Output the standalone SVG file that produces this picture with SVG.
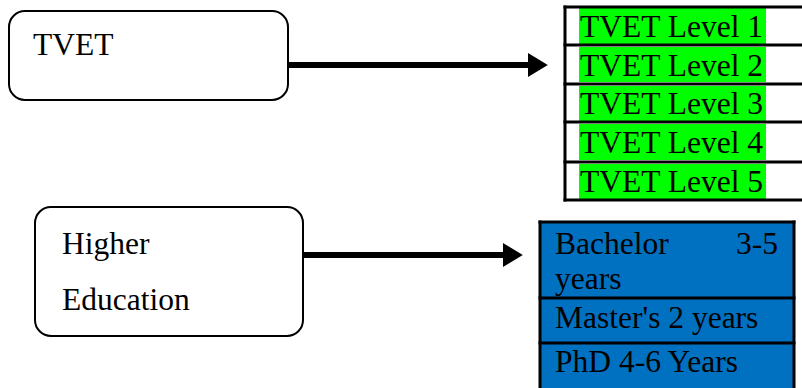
<svg xmlns="http://www.w3.org/2000/svg" width="802" height="388" viewBox="0 0 802 388">
<defs>
<style>
.box{fill:#fff;stroke:#000;stroke-width:2}
.t{font-family:"Liberation Serif","Times New Roman",serif;font-size:31.5px;fill:#000}
.cell{stroke:#000;stroke-width:3}
.conn{stroke:#000;stroke-width:6;fill:none}
</style>
<marker id="ah" markerWidth="4" markerHeight="4" refX="0" refY="2" orient="auto" markerUnits="strokeWidth" viewBox="0 0 4 4">
<path d="M0,0 L3.3,2 L0,4 Z" fill="#000"/>
</marker>
</defs>
<rect width="802" height="388" fill="#fff"/>
<g id="tvet">
<rect class="box" x="9" y="11" width="279" height="89" rx="16"/>
<text class="t" x="33" y="55">TVET</text>
</g>
<g id="higher-education">
<rect class="box" x="35" y="207" width="268" height="129" rx="16"/>
<text class="t" x="62" y="254">Higher</text>
<text class="t" x="62" y="310">Education</text>
</g>
<g id="tvet-levels">
<rect x="579" y="8" width="187" height="36" fill="#00ff00"/>
<rect x="579" y="47" width="187" height="35" fill="#00ff00"/>
<rect x="579" y="86" width="187" height="35" fill="#00ff00"/>
<rect x="579" y="124" width="187" height="36" fill="#00ff00"/>
<rect x="579" y="164" width="187" height="35" fill="#00ff00"/>
<g class="cell">
<line x1="565" y1="5.5" x2="565" y2="201.5"/>
<line x1="563.5" y1="7" x2="802" y2="7"/>
<line x1="563.5" y1="45" x2="802" y2="45"/>
<line x1="563.5" y1="84" x2="802" y2="84"/>
<line x1="563.5" y1="122" x2="802" y2="122"/>
<line x1="563.5" y1="162" x2="802" y2="162"/>
<line x1="563.5" y1="200" x2="802" y2="200"/>
</g>
<text class="t" x="580" y="37">TVET Level 1</text>
<text class="t" x="580" y="76">TVET Level 2</text>
<text class="t" x="580" y="114">TVET Level 3</text>
<text class="t" x="580" y="153">TVET Level 4</text>
<text class="t" x="580" y="192">TVET Level 5</text>
</g>
<g id="he-levels">
<rect x="540" y="222" width="254" height="170" fill="#0070c0"/>
<g class="cell">
<line x1="540" y1="220.5" x2="540" y2="390"/>
<line x1="794" y1="220.5" x2="794" y2="390"/>
<line x1="538.5" y1="222" x2="795.5" y2="222"/>
<line x1="538.5" y1="298" x2="795.5" y2="298"/>
<line x1="538.5" y1="343" x2="795.5" y2="343"/>
</g>
<text class="t" x="555" y="254">Bachelor</text>
<text class="t" x="778" y="254" text-anchor="end">3-5</text>
<text class="t" x="555" y="289">years</text>
<text class="t" x="555" y="328">Master's 2 years</text>
<text class="t" x="555" y="372">PhD 4-6 Years</text>
</g>
<g id="connectors">
<line class="conn" x1="288" y1="65" x2="528" y2="65" marker-end="url(#ah)"/>
<line class="conn" x1="303" y1="255" x2="503" y2="255" marker-end="url(#ah)"/>
</g>
</svg>
